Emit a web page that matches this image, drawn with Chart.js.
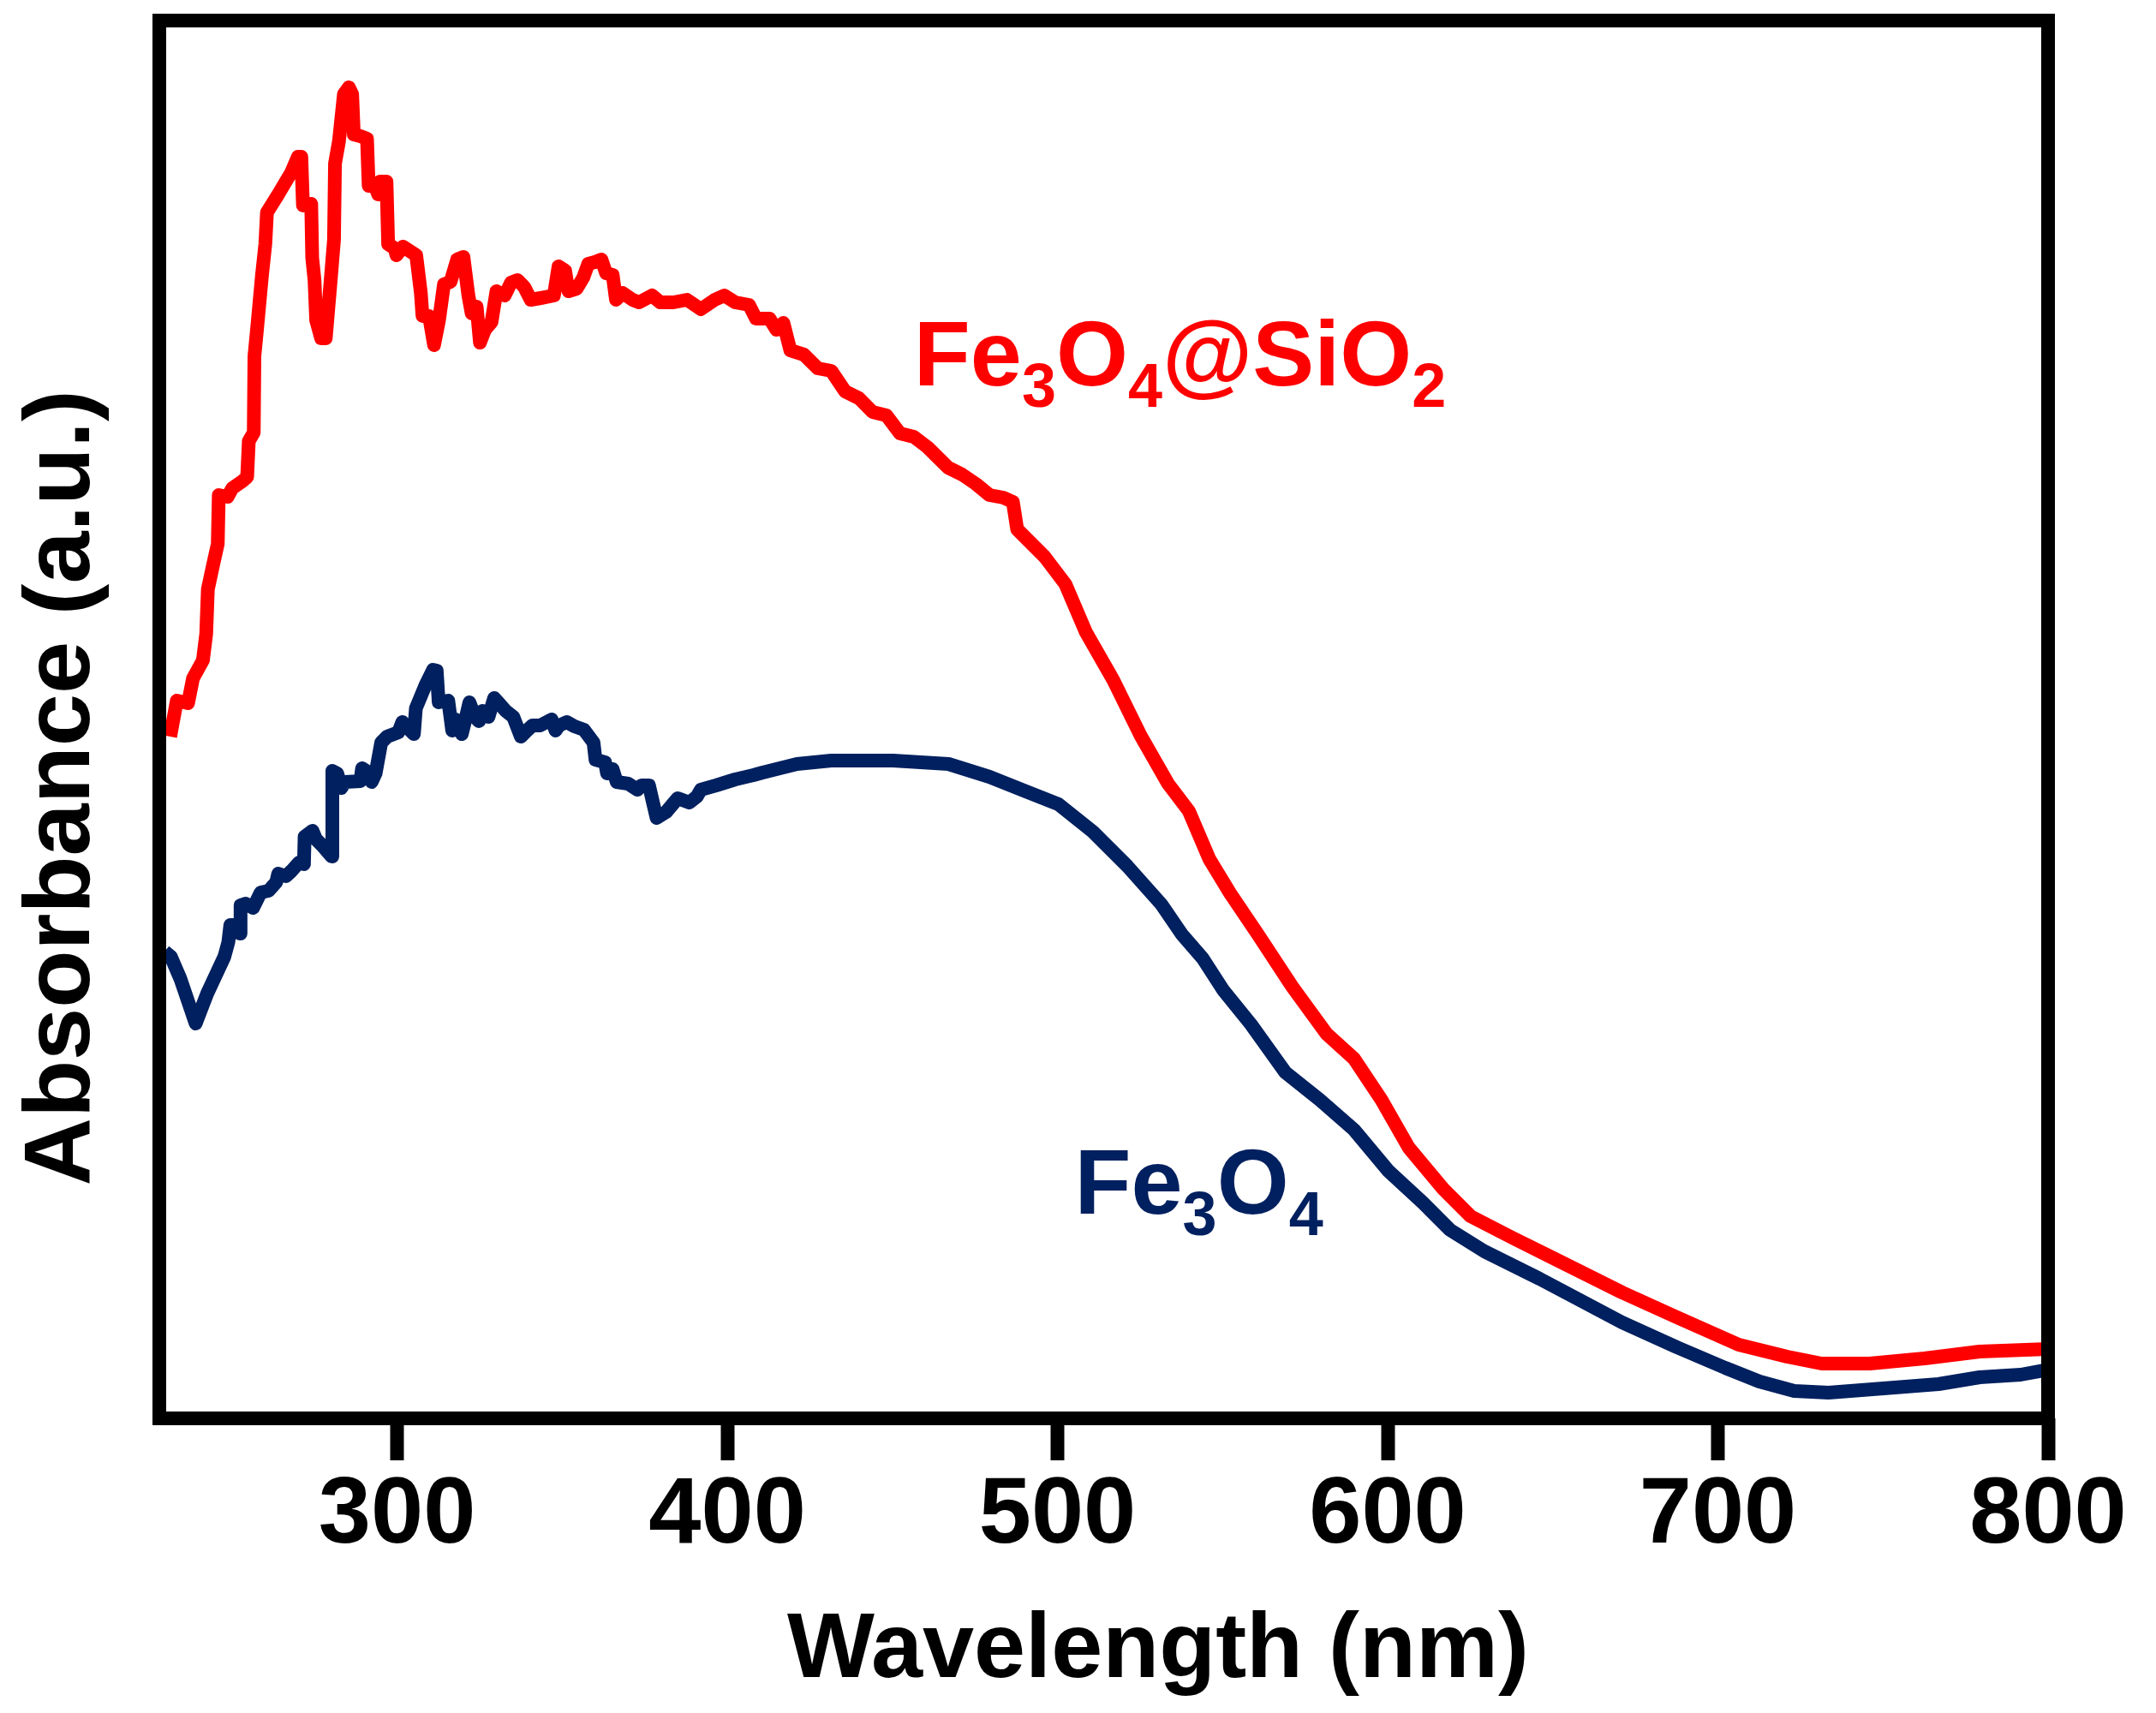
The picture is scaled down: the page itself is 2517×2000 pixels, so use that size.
<!DOCTYPE html>
<html>
<head>
<meta charset="utf-8">
<title>UV-Vis absorbance</title>
<script src="https://cdn.jsdelivr.net/npm/chart.js@4.4.1/dist/chart.umd.min.js"></script>
<style>
  html, body { margin: 0; padding: 0; background: #fff; }
  #chart { display: block; }
</style>
</head>
<body>
<canvas id="chart" width="2517" height="2000"></canvas>
<script>
// Fe3O4@SiO2 (red) spectrum
const redWavelength = [
  231.3, 233.3, 236.7, 238.2, 241.2, 242.2, 242.7, 244.2, 245.7, 246.0,
  248.7, 250.1, 253.1, 254.6, 255.1, 256.6, 256.8, 257.6, 259.1, 260.1,
  260.6, 264.0, 268.0, 270.0, 271.0, 271.5, 274.0, 274.3, 275.0, 275.5,
  277.0, 278.4, 279.9, 280.9, 281.2, 282.4, 283.9, 285.4, 286.4, 286.9,
  288.9, 290.9, 291.4, 293.3, 294.3, 294.8, 296.8, 297.3, 299.3, 299.8,
  301.8, 303.8, 305.8, 307.2, 307.7, 309.7, 311.2, 312.7, 314.2, 316.2,
  318.2, 320.1, 321.6, 322.6, 324.1, 325.1, 326.6, 328.6, 330.1, 332.6,
  334.5, 336.5, 338.5, 340.5, 343.5, 347.5, 348.9, 350.9, 351.9, 354.4,
  356.4, 357.9, 359.9, 361.9, 363.3, 365.3, 366.3, 368.3, 371.3, 373.3,
  377.2, 379.7, 383.7, 387.8, 392.0, 396.2, 399.1, 402.4, 406.6, 408.7,
  412.8, 414.9, 417.0, 419.1, 423.2, 427.4, 431.5, 435.7, 439.9, 444.0,
  448.2, 452.3, 456.5, 460.6, 466.9, 471.1, 475.3, 479.4, 483.6, 486.5,
  487.8, 496.1, 502.4, 508.6, 516.9, 525.2, 533.5, 539.8, 546.0, 552.3,
  560.7, 571.1, 581.5, 589.8, 598.1, 606.4, 616.8, 625.1, 637.7, 650.2,
  671.0, 687.6, 706.3, 721.0, 731.4, 746.0, 762.6, 779.3, 800.0
];
const redAbsorbance = [
  0.791, 0.833, 0.830, 0.859, 0.880, 0.911, 0.963, 0.990, 1.016, 1.073,
  1.071, 1.081, 1.089, 1.094, 1.136, 1.146, 1.235, 1.267, 1.330, 1.366,
  1.403, 1.424, 1.450, 1.468, 1.468, 1.411, 1.413, 1.350, 1.324, 1.277,
  1.256, 1.256, 1.324, 1.371, 1.460, 1.486, 1.541, 1.549, 1.541, 1.494,
  1.492, 1.489, 1.434, 1.434, 1.424, 1.439, 1.439, 1.366, 1.361, 1.353,
  1.363, 1.358, 1.353, 1.309, 1.282, 1.282, 1.248, 1.277, 1.319, 1.322,
  1.348, 1.351, 1.306, 1.285, 1.293, 1.251, 1.266, 1.275, 1.311, 1.306,
  1.321, 1.324, 1.316, 1.301, 1.303, 1.306, 1.340, 1.335, 1.311, 1.314,
  1.327, 1.343, 1.345, 1.348, 1.332, 1.330, 1.301, 1.309, 1.301, 1.298,
  1.306, 1.298, 1.298, 1.301, 1.290, 1.301, 1.306, 1.298, 1.295, 1.279,
  1.279, 1.266, 1.274, 1.242, 1.237, 1.221, 1.218, 1.194, 1.186, 1.170,
  1.166, 1.145, 1.141, 1.129, 1.105, 1.097, 1.086, 1.073, 1.070, 1.065,
  1.033, 1.001, 0.969, 0.913, 0.857, 0.792, 0.736, 0.704, 0.648, 0.608,
  0.560, 0.499, 0.444, 0.415, 0.367, 0.311, 0.263, 0.231, 0.206, 0.182,
  0.142, 0.113, 0.081, 0.067, 0.059, 0.059, 0.065, 0.073, 0.076
];

// Fe3O4 (navy) spectrum
const blueWavelength = [
  229.6, 231.5, 234.4, 239.0, 242.5, 247.7, 248.9, 249.5, 251.2, 252.4,
  252.6, 254.1, 256.4, 258.7, 261.1, 263.4, 264.0, 266.3, 268.0, 270.3,
  271.8, 272.0, 274.4, 275.5, 277.3, 280.2, 280.4, 281.9, 283.1, 284.2,
  288.9, 289.4, 290.6, 292.3, 293.5, 295.2, 297.0, 300.4, 301.6, 303.3,
  305.1, 305.7, 308.6, 310.9, 312.0, 312.6, 315.5, 316.7, 317.8, 319.6,
  320.7, 321.9, 323.6, 324.8, 325.9, 327.7, 329.4, 330.6, 332.9, 335.2,
  337.5, 339.3, 341.0, 343.3, 346.8, 348.0, 349.1, 351.4, 353.7, 356.6,
  359.5, 360.1, 363.0, 363.6, 365.3, 366.5, 370.0, 372.8, 374.0, 376.3,
  377.5, 378.6, 381.5, 385.0, 388.5, 390.8, 392.0, 396.6, 402.4, 407.9,
  410.7, 421.1, 431.5, 450.2, 467.0, 479.4, 489.8, 500.3, 510.7, 521.1,
  531.5, 537.7, 544.0, 550.2, 558.6, 569.0, 579.4, 589.8, 600.2, 610.6,
  618.9, 629.3, 646.0, 671.0, 687.6, 702.2, 712.6, 723.1, 733.5, 750.2,
  766.8, 779.3, 791.7, 800.0
];
const blueAbsorbance = [
  0.540, 0.534, 0.508, 0.456, 0.491, 0.534, 0.551, 0.571, 0.571, 0.561,
  0.594, 0.596, 0.591, 0.609, 0.611, 0.621, 0.631, 0.628, 0.634, 0.644,
  0.642, 0.674, 0.681, 0.671, 0.664, 0.651, 0.751, 0.748, 0.731, 0.738,
  0.739, 0.754, 0.751, 0.738, 0.748, 0.784, 0.791, 0.796, 0.808, 0.801,
  0.794, 0.824, 0.851, 0.869, 0.868, 0.831, 0.833, 0.798, 0.811, 0.794,
  0.811, 0.831, 0.814, 0.809, 0.821, 0.814, 0.836, 0.831, 0.821, 0.814,
  0.791, 0.798, 0.804, 0.804, 0.811, 0.798, 0.804, 0.808, 0.803, 0.799,
  0.784, 0.764, 0.761, 0.748, 0.753, 0.738, 0.736, 0.729, 0.734, 0.734,
  0.714, 0.696, 0.703, 0.719, 0.714, 0.721, 0.729, 0.734, 0.741, 0.746,
  0.749, 0.759, 0.763, 0.763, 0.759, 0.744, 0.728, 0.712, 0.680, 0.640,
  0.595, 0.560, 0.532, 0.495, 0.455, 0.399, 0.367, 0.332, 0.284, 0.247,
  0.215, 0.190, 0.158, 0.107, 0.078, 0.054, 0.038, 0.027, 0.025, 0.030,
  0.035, 0.043, 0.046, 0.052
];

const xTicks = [300, 400, 500, 600, 700, 800];

const FONT = "'Liberation Sans', Arial, Helvetica, sans-serif";
const RED = '#ff0000';
const NAVY = '#00205f';

// curve labels: [text, subscript?] pieces, anchored in data coords
const curveLabels = [
  { parts: [['Fe', false], ['3', true], ['O', false], ['4', true], ['@SiO', false], ['2', true]],
    x: 456.5, y: 1.201, color: RED },
  { parts: [['Fe', false], ['3', true], ['O', false], ['4', true]],
    x: 505.2, y: 0.234, color: NAVY }
];

function toPoints(xs, ys) {
  return xs.map((x, i) => ({ x: x, y: ys[i] }));
}

function drawFormula(ctx, parts, x, y, color) {
  ctx.fillStyle = color;
  ctx.textAlign = 'left';
  ctx.textBaseline = 'alphabetic';
  let cx = x;
  parts.forEach(([text, sub]) => {
    ctx.font = sub ? `bold 72px ${FONT}` : `bold 108px ${FONT}`;
    ctx.fillText(text, cx, sub ? y + 25 : y);
    cx += ctx.measureText(text).width;
  });
}

const framePlugin = {
  id: 'frameAndText',
  afterDraw(chart) {
    const { ctx, chartArea: a, scales } = chart;
    ctx.save();

    // box around plot
    ctx.strokeStyle = '#000';
    ctx.lineWidth = 16;
    ctx.lineJoin = 'miter';
    ctx.strokeRect(a.left, a.top, a.right - a.left, a.bottom - a.top);

    // axis titles
    ctx.fillStyle = '#000';
    ctx.font = `bold 108px ${FONT}`;
    ctx.textAlign = 'center';
    ctx.textBaseline = 'alphabetic';
    ctx.fillText('Wavelength (nm)', 1352, 1958);

    ctx.save();
    ctx.translate(104, 920);
    ctx.rotate(-Math.PI / 2);
    ctx.font = `bold 110px ${FONT}`;
    ctx.fillText('Absorbance (a.u.)', 0, 0);
    ctx.restore();

    // curve labels
    curveLabels.forEach(l => {
      drawFormula(ctx, l.parts,
        scales.x.getPixelForValue(l.x),
        scales.y.getPixelForValue(l.y),
        l.color);
    });

    ctx.restore();
  }
};

const ctx = document.getElementById('chart').getContext('2d');
new Chart(ctx, {
  type: 'line',
  data: {
    datasets: [
      {
        label: 'Fe3O4@SiO2',
        data: toPoints(redWavelength, redAbsorbance),
        borderColor: RED,
        borderWidth: 16,
        pointRadius: 0,
        tension: 0,
        borderJoinStyle: 'round',
        fill: false
      },
      {
        label: 'Fe3O4',
        data: toPoints(blueWavelength, blueAbsorbance),
        borderColor: NAVY,
        borderWidth: 16,
        pointRadius: 0,
        tension: 0,
        borderJoinStyle: 'round',
        fill: false
      }
    ]
  },
  options: {
    responsive: false,
    animation: false,
    devicePixelRatio: 1,
    layout: {
      padding: { left: 186, right: 126, top: 24, bottom: 0 }
    },
    plugins: {
      legend: { display: false },
      tooltip: { enabled: false }
    },
    scales: {
      x: {
        type: 'linear',
        min: 228,
        max: 800,
        afterBuildTicks: scale => {
          scale.ticks = xTicks.map(v => ({ value: v }));
        },
        afterFit: scale => {
          scale.height = 344;
        },
        border: { display: false },
        grid: {
          drawOnChartArea: false,
          drawTicks: true,
          tickLength: 49,
          tickWidth: 16,
          tickColor: '#000'
        },
        ticks: {
          autoSkip: false,
          maxRotation: 0,
          padding: 0,
          color: '#000',
          font: { family: FONT, size: 110, weight: 'bold' },
          callback: v => String(v)
        }
      },
      y: {
        display: false,
        min: -0.005,
        max: 1.627
      }
    }
  },
  plugins: [framePlugin]
});
</script>
</body>
</html>
